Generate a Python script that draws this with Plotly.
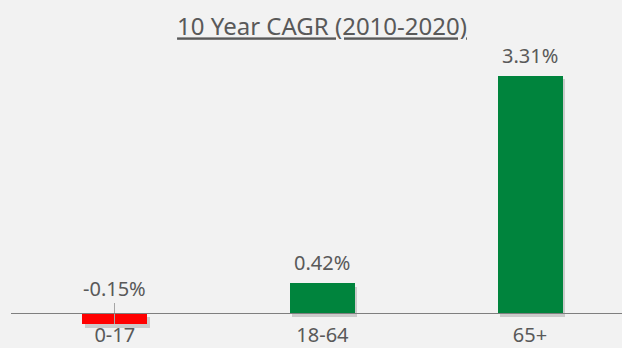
import plotly.graph_objects as go

# Compound annual growth rate by age group, 2010-2020
categories = ["0-17", "18-64", "65+"]
cagr_pct = [-0.15, 0.42, 3.31]
bar_colors = ["#FF0000", "#00843D", "#00843D"]
value_labels = [f"{v:.2f}%" for v in cagr_pct]

TEXT = "#595959"
FONT = "Noto Sans"

fig = go.Figure()

# soft drop shadow behind each bar
fig.add_trace(go.Bar(
    x=categories, y=cagr_pct, base=[-0.05] * len(cagr_pct),
    width=0.313, offset=-0.145,
    marker=dict(color="rgba(0,0,0,0.16)", line=dict(width=0)),
    hoverinfo="skip", showlegend=False, cliponaxis=False,
))

# main bars
fig.add_trace(go.Bar(
    x=categories, y=cagr_pct, width=0.313,
    marker=dict(color=bar_colors, line=dict(width=0)),
    showlegend=False, cliponaxis=False,
    error_y=dict(type="data", symmetric=False,
                 array=[0.29 if v < 0 else 0 for v in cagr_pct],
                 arrayminus=[0] * len(cagr_pct),
                 visible=True, width=0, thickness=1, color="#A6A6A6"),
))

# value labels above each bar (or above the axis for negatives)
for cat, v, lab in zip(categories, cagr_pct, value_labels):
    fig.add_annotation(
        x=cat, y=max(v, 0), text=lab, showarrow=False,
        xanchor="center", yanchor="bottom", yshift=5 if v >= 0 else 9,
        font=dict(family=FONT, size=20, color=TEXT),
    )

fig.update_layout(
    width=622, height=348,
    margin=dict(l=11, r=0, t=0, b=0),
    paper_bgcolor="#F2F2F2", plot_bgcolor="#F2F2F2",
    barmode="overlay",
    bargap=0,
    title=dict(text="<u>10 Year CAGR (2010-2020)</u>",
               font=dict(family=FONT, size=24, color=TEXT),
               x=322 / 622, xref="container", xanchor="center",
               y=1 - 27 / 348, yref="container", yanchor="middle"),
    xaxis=dict(range=[-0.5, 2.443], showgrid=False, zeroline=False,
               showline=True, linecolor="#7F7F7F", linewidth=1,
               ticks="", anchor="free", position=33 / 348,
               tickfont=dict(family=FONT, size=20, color=TEXT),
               ticklabelstandoff=4),
    yaxis=dict(range=[-0.457, 4.363], visible=False, showgrid=False,
               zeroline=False),
)

fig.write_html("out.html")
